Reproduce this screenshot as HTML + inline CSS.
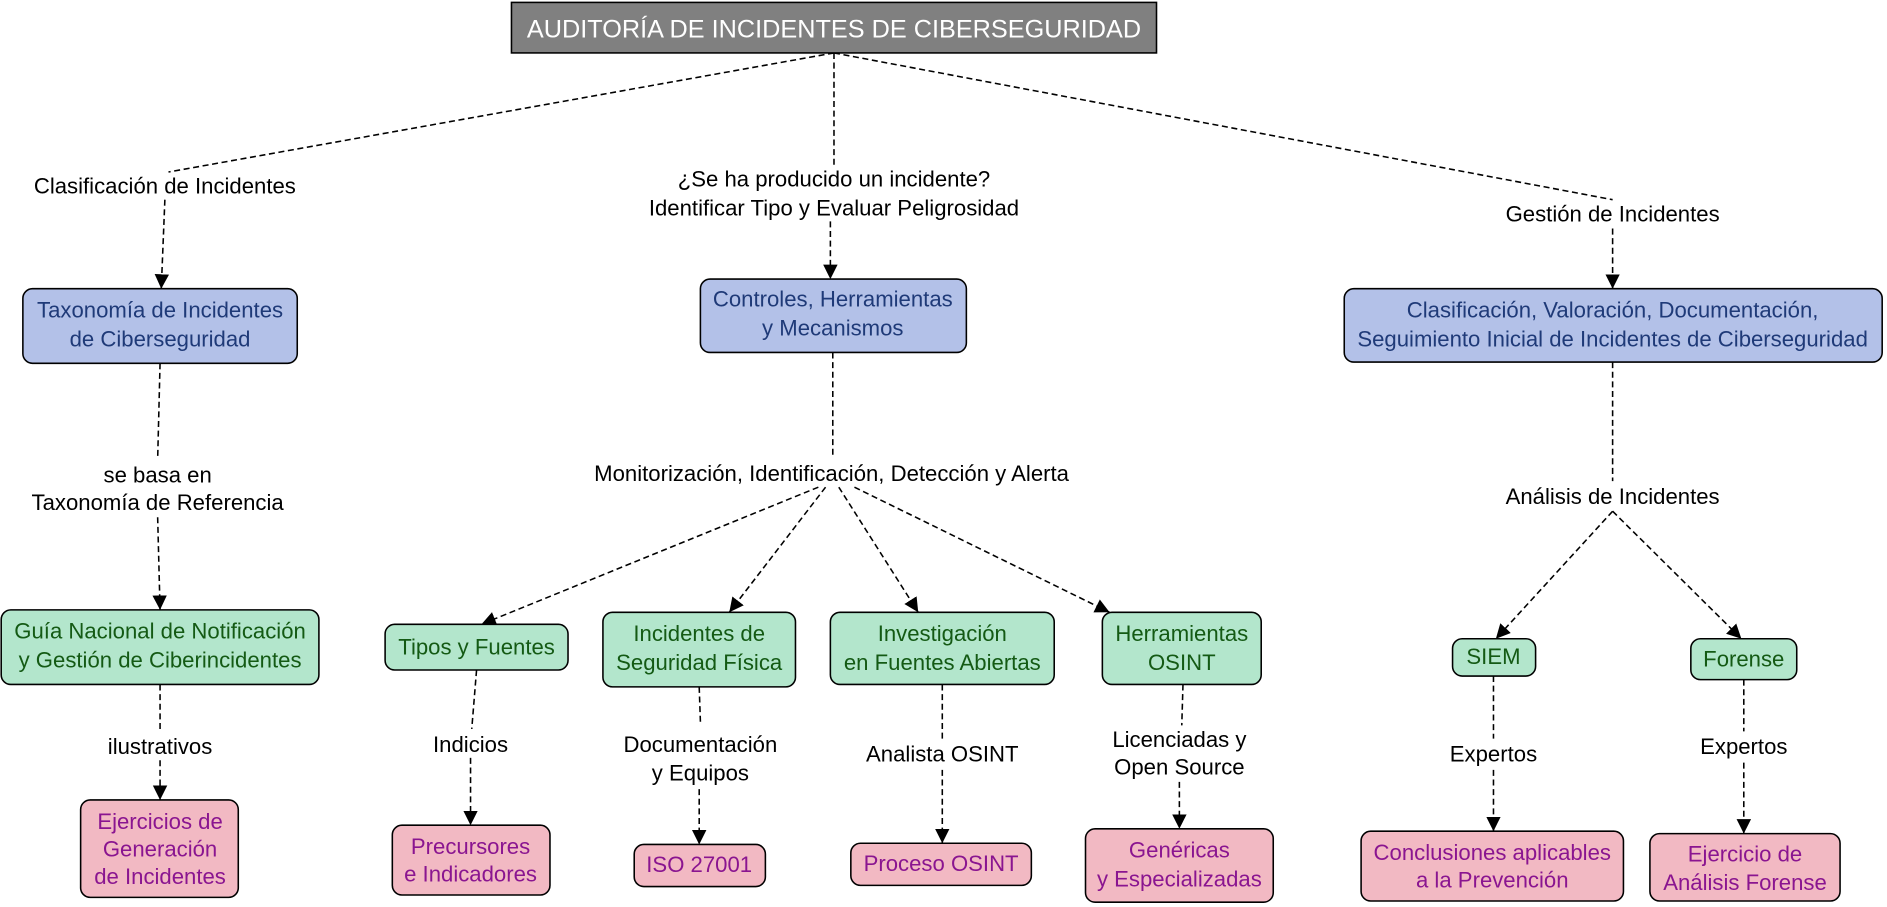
<!DOCTYPE html>
<html><head><meta charset="utf-8"><style>
html,body{margin:0;padding:0;background:#fff;}
svg{display:block;}
text{font-family:"Liberation Sans",Arial,sans-serif;font-size:18.4px;text-anchor:middle;}
.l{fill:#000;}
.b{fill:#1f3a78;}
.g{fill:#145a14;}
.p{fill:#8a1590;}
</style></head><body>
<svg width="1887" height="907" viewBox="0 0 1568 754" preserveAspectRatio="none" xmlns="http://www.w3.org/2000/svg">
<defs>
<marker id="a" markerUnits="userSpaceOnUse" markerWidth="14" markerHeight="14" refX="12" refY="6" orient="auto">
<path d="M0,0 L12,6 L0,12 z" fill="#000"/>
</marker>
</defs>
<g stroke="#000" stroke-width="1.3" stroke-dasharray="5,3" fill="none">
<line x1="693" y1="44" x2="140" y2="143"/>
<line x1="137" y1="166" x2="134" y2="240" marker-end="url(#a)"/>
<line x1="693" y1="44" x2="693" y2="138"/>
<line x1="690" y1="184" x2="690" y2="232" marker-end="url(#a)"/>
<line x1="693" y1="44" x2="1340" y2="166"/>
<line x1="1340" y1="190" x2="1340" y2="240" marker-end="url(#a)"/>
<line x1="133" y1="302" x2="131" y2="382"/>
<line x1="131" y1="430" x2="133" y2="507" marker-end="url(#a)"/>
<line x1="133" y1="569" x2="133" y2="608"/>
<line x1="133" y1="632" x2="133" y2="665" marker-end="url(#a)"/>
<line x1="692" y1="293" x2="692" y2="380"/>
<line x1="680" y1="405" x2="400" y2="519" marker-end="url(#a)"/>
<line x1="686" y1="405" x2="606" y2="509" marker-end="url(#a)"/>
<line x1="697" y1="405" x2="763" y2="509" marker-end="url(#a)"/>
<line x1="710" y1="405" x2="922" y2="509" marker-end="url(#a)"/>
<line x1="396" y1="557" x2="392" y2="606"/>
<line x1="391" y1="630" x2="391" y2="686" marker-end="url(#a)"/>
<line x1="581" y1="571" x2="582" y2="600"/>
<line x1="581" y1="656" x2="581" y2="702" marker-end="url(#a)"/>
<line x1="783" y1="569" x2="783" y2="614"/>
<line x1="783" y1="640" x2="783" y2="701" marker-end="url(#a)"/>
<line x1="983" y1="569" x2="982" y2="603"/>
<line x1="980" y1="650" x2="980" y2="689" marker-end="url(#a)"/>
<line x1="1340" y1="301" x2="1340" y2="400"/>
<line x1="1340" y1="425" x2="1243" y2="531" marker-end="url(#a)"/>
<line x1="1340" y1="425" x2="1447" y2="531" marker-end="url(#a)"/>
<line x1="1241" y1="562" x2="1241" y2="614"/>
<line x1="1241" y1="640" x2="1241" y2="691" marker-end="url(#a)"/>
<line x1="1449" y1="565" x2="1449" y2="608"/>
<line x1="1449" y1="634" x2="1449" y2="693" marker-end="url(#a)"/>
</g>
<text class="l" x="137" y="161">Clasificación de Incidentes</text>
<text class="l" x="693" y="155">¿Se ha producido un incidente?</text>
<text class="l" x="693" y="179">Identificar Tipo y Evaluar Peligrosidad</text>
<text class="l" x="1340" y="184">Gestión de Incidentes</text>
<text class="l" x="131" y="401">se basa en</text>
<text class="l" x="131" y="424">Taxonomía de Referencia</text>
<text class="l" x="133" y="627">ilustrativos</text>
<text class="l" x="691" y="400">Monitorización, Identificación, Detección y Alerta</text>
<text class="l" x="391" y="625">Indicios</text>
<text class="l" x="582" y="625">Documentación</text>
<text class="l" x="582" y="649">y Equipos</text>
<text class="l" x="783" y="633">Analista OSINT</text>
<text class="l" x="980" y="621">Licenciadas y</text>
<text class="l" x="980" y="644">Open Source</text>
<text class="l" x="1340" y="419">Análisis de Incidentes</text>
<text class="l" x="1241" y="633">Expertos</text>
<text class="l" x="1449" y="627">Expertos</text>
<rect x="425" y="2" width="536" height="42" fill="#808080" stroke="#000" stroke-width="1.3"/>
<text x="693" y="31" style="font-size:21px;fill:#fff">AUDITORÍA DE INCIDENTES DE CIBERSEGURIDAD</text>
<g fill="#b3c1e8" stroke="#000" stroke-width="1.3">
<rect x="19" y="240" width="228" height="62" rx="8"/>
<rect x="582" y="232" width="221" height="61" rx="8"/>
<rect x="1117" y="240" width="447" height="61" rx="8"/>
</g>
<text class="b" x="133" y="264">Taxonomía de Incidentes</text>
<text class="b" x="133" y="288">de Ciberseguridad</text>
<text class="b" x="692" y="255">Controles, Herramientas</text>
<text class="b" x="692" y="279">y Mecanismos</text>
<text class="b" x="1340" y="264">Clasificación, Valoración, Documentación,</text>
<text class="b" x="1340" y="288">Seguimiento Inicial de Incidentes de Ciberseguridad</text>
<g fill="#b3e6cc" stroke="#000" stroke-width="1.3">
<rect x="1" y="507" width="264" height="62" rx="8"/>
<rect x="320" y="519" width="152" height="38" rx="8"/>
<rect x="501" y="509" width="160" height="62" rx="8"/>
<rect x="690" y="509" width="186" height="60" rx="8"/>
<rect x="916" y="509" width="132" height="60" rx="8"/>
<rect x="1207" y="531" width="69" height="31" rx="8"/>
<rect x="1405" y="531" width="88" height="34" rx="8"/>
</g>
<text class="g" x="133" y="531">Guía Nacional de Notificación</text>
<text class="g" x="133" y="555">y Gestión de Ciberincidentes</text>
<text class="g" x="396" y="544">Tipos y Fuentes</text>
<text class="g" x="581" y="533">Incidentes de</text>
<text class="g" x="581" y="557">Seguridad Física</text>
<text class="g" x="783" y="533">Investigación</text>
<text class="g" x="783" y="557">en Fuentes Abiertas</text>
<text class="g" x="982" y="533">Herramientas</text>
<text class="g" x="982" y="557">OSINT</text>
<text class="g" x="1241" y="552">SIEM</text>
<text class="g" x="1449" y="554">Forense</text>
<g fill="#f2b9c3" stroke="#000" stroke-width="1.3">
<rect x="67" y="665" width="131" height="81" rx="8"/>
<rect x="326" y="686" width="131" height="58" rx="8"/>
<rect x="527" y="702" width="109" height="35" rx="8"/>
<rect x="707" y="701" width="150" height="35" rx="8"/>
<rect x="902" y="689" width="156" height="61" rx="8"/>
<rect x="1131" y="691" width="218" height="58" rx="8"/>
<rect x="1371" y="693" width="158" height="56" rx="8"/>
</g>
<text class="p" x="133" y="689">Ejercicios de</text>
<text class="p" x="133" y="712">Generación</text>
<text class="p" x="133" y="735">de Incidentes</text>
<text class="p" x="391" y="710">Precursores</text>
<text class="p" x="391" y="733">e Indicadores</text>
<text class="p" x="581" y="725">ISO 27001</text>
<text class="p" x="782" y="724">Proceso OSINT</text>
<text class="p" x="980" y="713">Genéricas</text>
<text class="p" x="980" y="737">y Especializadas</text>
<text class="p" x="1240" y="715">Conclusiones aplicables</text>
<text class="p" x="1240" y="738">a la Prevención</text>
<text class="p" x="1450" y="716">Ejercicio de</text>
<text class="p" x="1450" y="740">Análisis Forense</text>
</svg>
</body></html>
